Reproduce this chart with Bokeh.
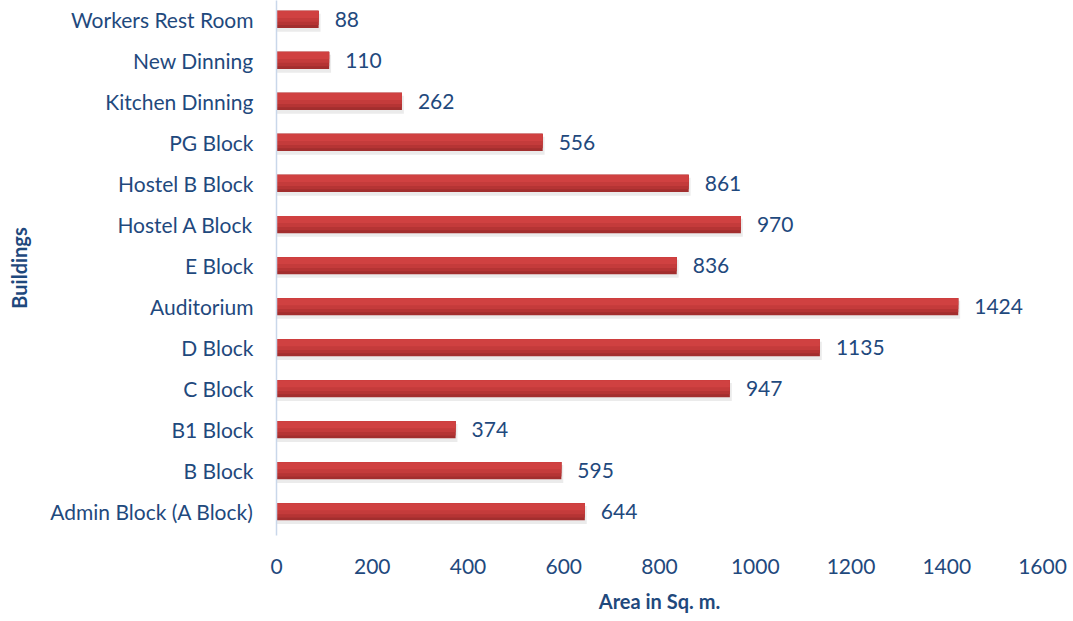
from bokeh.plotting import figure
from bokeh.models import Range1d, FixedTicker, ColumnDataSource
from bokeh.embed import file_html
from bokeh.resources import INLINE
from bokeh.core.properties import value

buildings = ["Admin Block (A Block)", "B Block", "B1 Block", "C Block", "D Block",
             "Auditorium", "E Block", "Hostel A Block", "Hostel B Block", "PG Block",
             "Kitchen Dinning", "New Dinning", "Workers Rest Room"]
areas = [644, 595, 374, 947, 1135, 1424, 836, 970, 861, 556, 262, 110, 88]
x_ticks = [0, 200, 400, 600, 800, 1000, 1200, 1400, 1600]

FONT = "Lato"
TXT = "#1F497D"
pos = list(range(len(buildings)))

p = figure(width=1073, height=621, output_backend="svg", toolbar_location=None,
           x_range=Range1d(0, 1600), y_range=Range1d(-0.58, 12.46),
           min_border_left=276, min_border_right=31, min_border_top=0, min_border_bottom=86)
p.outline_line_color = None
p.grid.visible = False
p.background_fill_color = "white"
p.border_fill_color = "white"

src = ColumnDataSource(dict(y=pos, v=areas, lab=[str(a) for a in areas]))

# shadow
shadow = ColumnDataSource(dict(y=[y - 0.08 for y in pos], v=[a + 4 for a in areas]))
p.hbar(y="y", right="v", left=0, height=0.44, source=shadow,
       fill_color="#9a9a9a", fill_alpha=0.2, line_color=None)

# gradient-like bar layers
bands = [("#A22E2E", 0.42, 0.0), ("#B53434", 0.35, 0.035), ("#C43B3B", 0.27, 0.075), ("#D04141", 0.17, 0.12)]
for col, h, off in bands:
    s = ColumnDataSource(dict(y=[y + off for y in pos], v=areas))
    p.hbar(y="y", right="v", left=0, height=h, source=s, fill_color=col, line_color=None)

p.text(x="v", y="y", text="lab", source=src, x_offset=16, text_align="left",
       text_baseline="middle", text_font=value(FONT), text_font_size="21px", text_color=TXT)

# axes
p.xaxis.ticker = FixedTicker(ticks=x_ticks)
p.xaxis.axis_line_color = None
p.xaxis.major_tick_line_color = None
p.xaxis.minor_tick_line_color = None
p.xaxis.major_label_standoff = 17
p.xaxis.major_label_text_font = FONT
p.xaxis.major_label_text_font_size = "21px"
p.xaxis.major_label_text_color = TXT
p.xaxis.axis_label = "Area in Sq. m."
p.xaxis.axis_label_text_font = FONT
p.xaxis.axis_label_text_font_size = "20px"
p.xaxis.axis_label_text_font_style = "bold"
p.xaxis.axis_label_text_color = TXT
p.xaxis.axis_label_standoff = 12

p.yaxis.ticker = FixedTicker(ticks=pos)
p.yaxis.major_label_overrides = {i: b for i, b in zip(pos, buildings)}
p.yaxis.axis_line_color = "#C9D7EA"
p.yaxis.axis_line_width = 1.5
p.yaxis.major_tick_line_color = None
p.yaxis.minor_tick_line_color = None
p.yaxis.major_label_standoff = 17
p.yaxis.major_label_text_font = FONT
p.yaxis.major_label_text_font_size = "21px"
p.yaxis.major_label_text_color = TXT
p.yaxis.axis_label = "Buildings"
p.yaxis.axis_label_text_font = FONT
p.yaxis.axis_label_text_font_size = "20px"
p.yaxis.axis_label_text_font_style = "bold"
p.yaxis.axis_label_text_color = TXT
p.yaxis.axis_label_standoff = 16

open("out.html", "w").write(file_html(p, INLINE))
